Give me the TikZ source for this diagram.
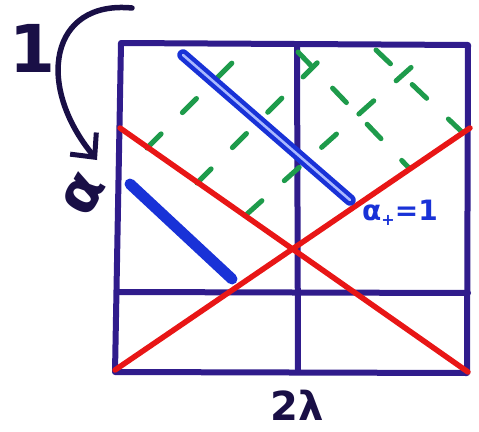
\documentclass[tikz,border=0pt]{standalone}
\usepackage{fontspec}
\newfontfamily\markfont{DejaVu Sans}
\usetikzlibrary{arrows.meta}

\definecolor{frameblue}{RGB}{48,28,140}
\definecolor{markred}{RGB}{232,22,22}
\definecolor{markblue}{RGB}{25,50,215}
\definecolor{paleblue}{RGB}{170,185,255}
\definecolor{markgreen}{RGB}{30,155,75}
\definecolor{inkdark}{RGB}{25,15,70}

\tikzset{
	frame/.style={draw=frameblue, line width=6pt, line cap=round, line join=round},
	redline/.style={draw=markred, line width=5.5pt, line cap=round},
	bluebar/.style={draw=markblue, line width=11pt, line cap=round},
	greendash/.style={draw=markgreen, line width=5pt, line cap=round, dash pattern=on 20pt off 30pt},
	handarrow/.style={draw=inkdark, line width=5.5pt, line cap=round, -{Straight Barb[length=18pt,width=34pt,line width=5pt]}},
	handlabel/.style={inner sep=0pt}
}

\begin{document}
\begin{tikzpicture}[x=1pt,y=-1pt]
			\useasboundingbox (0,0) rectangle (479,431);
			
			\draw[frame] (121,43) -- (468,45) -- (467,373) -- (115,372) -- cycle;
			\draw[frame] (297,45) -- (298,371);
			\draw[frame] (119,292) -- (468,293);
			
			\draw[greendash] (147,148) -- (250,45);
			\draw[greendash] (197,183) -- (330,50);
			\draw[greendash] (247,214) -- (425,55);
			\draw[greendash] (298,52) -- (409,168);
			\draw[greendash] (376,50) -- (462,132);
			
			\draw[redline] (120,128) -- (468,372);
			\draw[redline] (115,370) -- (470,128);
			
			\draw[draw=markblue, line width=4.5pt, double=paleblue, double distance=2.5pt, line cap=round] (183,55) -- (350,200);
			\draw[bluebar] (130,184) -- (232,279);
			
			\node[handlabel, text=inkdark, font=\markfont\bfseries\fontsize{66}{68}\selectfont] (one) at (32,48) {1};
			\node[handlabel, text=inkdark, rotate=60, font=\markfont\bfseries\fontsize{58}{60}\selectfont] (alpha) at (84,194) {α};
			\node[handlabel, text=markblue, font=\markfont\bfseries\fontsize{28}{30}\selectfont] (alphaplus) at (400,213) {α\raisebox{-0.3ex}{\fontsize{16}{18}\selectfont+}=1};
			\node[handlabel, text=inkdark, font=\markfont\bfseries\fontsize{40}{42}\selectfont] (twolambda) at (297,405) {2λ};
			
			\coordinate (arrtail) at (132,8);
			\coordinate (arrhead) at (97,160);
			\draw[handarrow] (arrtail) .. controls (50,0) and (35,85) .. (arrhead);
		\end{tikzpicture}
\end{document}
